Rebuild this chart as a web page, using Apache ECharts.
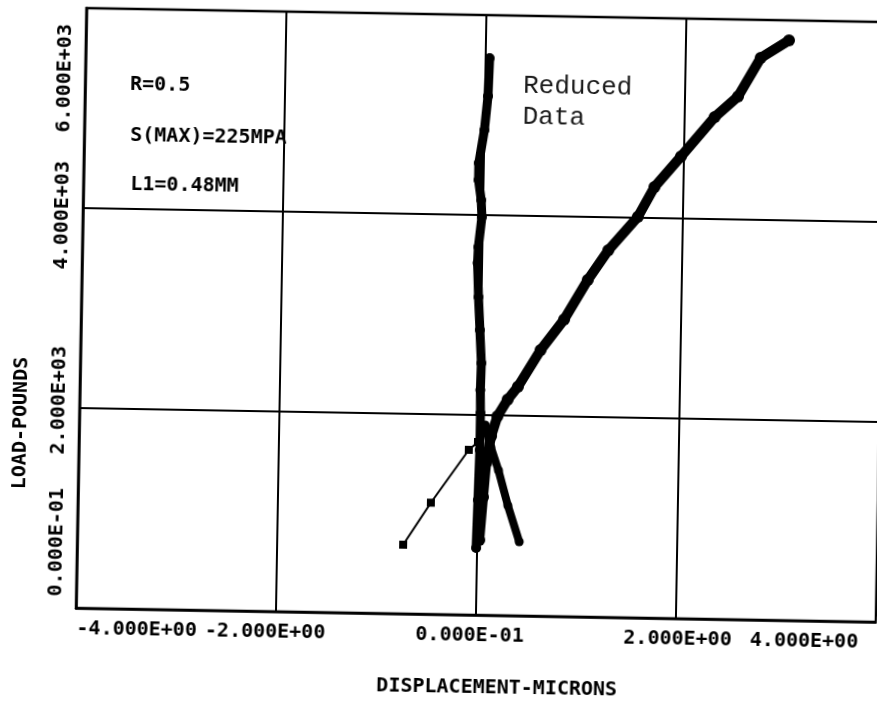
<!DOCTYPE html>
<html>
<head>
<meta charset="utf-8">
<title>Load vs displacement</title>
<script src="https://cdn.jsdelivr.net/npm/echarts@6/dist/echarts.min.js"></script>
<style>
  html, body { margin: 0; padding: 0; background: #fff; overflow: hidden; }
  #chart {
    width: 877px; height: 703px;
    /* the plotted sheet sits slightly skewed on the page */
    transform: rotate(1deg);
    transform-origin: 75px 608px;
  }
</style>
</head>
<body>
<div id="chart"></div>
<script>
// Tick labels as printed by the plotter
const xTickLabels = ['-4.000E+00', '-2.000E+00', '0.000E-01', '2.000E+00', '4.000E+00'];
const yTickLabels = ['0.000E-01', '2.000E+03', '4.000E+03', '6.000E+03'];

// Displacement (microns), load (pounds)
const nearZeroCurve = [
  [-0.01, 670], [0.00, 1150], [0.01, 1650], [0.01, 2020], [0.005, 2250],
  [0.01, 2520], [-0.01, 2850], [-0.03, 3180], [-0.045, 3520], [-0.04, 3680],
  [-0.01, 3980], [-0.02, 4150], [-0.05, 4350], [-0.05, 4520], [0.00, 4850],
  [0.03, 5190], [0.04, 5570]
];
const loadingCurve = [
  [0.02, 750], [0.05, 1180], [0.075, 1520], [0.12, 1790], [0.18, 1990],
  [0.28, 2160], [0.38, 2290], [0.60, 2660], [0.83, 2970], [1.06, 3370],
  [1.26, 3670], [1.55, 4010], [1.71, 4310], [1.97, 4620], [2.30, 5020],
  [2.53, 5230], [2.75, 5620], [3.03, 5800]
];
const returnBranch = [
  [0.06, 1900], [0.12, 1680], [0.20, 1450], [0.30, 1100], [0.42, 740]
];
const rawPoints = [
  [-0.74, 690], [-0.47, 1115], [-0.10, 1650], [-0.01, 1730]
];

// Annotation text
const notes = ['R=0.5', 'S(MAX)=225MPA', 'L1=0.48MM'];
const stamp = ['Reduced', 'Data'];
const xTitle = 'DISPLACEMENT-MICRONS';
const yTitle = 'LOAD-POUNDS';

const INK = '#000';
const PLOT_FONT = '"DejaVu Sans Mono", monospace';

function tok(pad) {
  return { fontFamily: PLOT_FONT, fontWeight: 'bold', fontSize: 20, color: INK, padding: pad };
}

const chart = echarts.init(document.getElementById('chart'), null, { renderer: 'canvas' });

chart.setOption({
  animation: false,
  backgroundColor: '#fff',
  grid: {
    left: 75, top: 8, width: 801, height: 600,
    show: true, borderColor: INK, borderWidth: 2.5, backgroundColor: 'transparent'
  },
  xAxis: {
    type: 'value', min: -4, max: 4, interval: 2,
    axisLine: { show: true, onZero: false, lineStyle: { color: INK, width: 2.5 } },
    axisTick: { show: false },
    splitLine: { show: true, lineStyle: { color: INK, width: 2 } },
    axisLabel: {
      showMinLabel: true, showMaxLabel: true, margin: 11,
      formatter: function (v) {
        const i = Math.round((v + 4) / 2);
        return '{x' + i + '|' + xTickLabels[i] + '}';
      },
      rich: {
        x0: tok([0, 0, 0, 122]),
        x1: tok([0, 21, 0, 0]),
        x2: tok([0, 12, 0, 0]),
        x3: tok([0, 0, 0, 4]),
        x4: tok([0, 143, 0, 0])
      }
    },
    name: xTitle, nameLocation: 'middle', nameGap: 63,
    nameTextStyle: { fontFamily: PLOT_FONT, fontWeight: 'bold', fontSize: 20, color: INK, padding: [0, 0, 0, 44] }
  },
  yAxis: {
    type: 'value', min: 0, max: 6000, interval: 2000,
    axisLine: { show: true, onZero: false, lineStyle: { color: INK, width: 2.5 } },
    axisTick: { show: false },
    splitLine: { show: true, lineStyle: { color: INK, width: 2 } },
    axisLabel: {
      rotate: 90, showMinLabel: true, showMaxLabel: true, margin: 10,
      formatter: function (v) {
        const i = Math.round(v / 2000);
        return '{y' + i + '|' + yTickLabels[i] + '}';
      },
      rich: {
        y0: tok([0, 0, 0, 131]),
        y1: tok([0, 0, 0, 15]),
        y2: tok([0, 15, 0, 0]),
        y3: tok([0, 141, 0, 0])
      }
    },
    name: yTitle, nameLocation: 'middle', nameGap: 48,
    nameTextStyle: { fontFamily: PLOT_FONT, fontWeight: 'bold', fontSize: 20, color: INK, padding: [0, 232, 0, 0] }
  },
  graphic: [
    { type: 'text', x: 121, y: 84, style: { text: notes[0], font: 'bold 20px ' + PLOT_FONT, fill: INK, verticalAlign: 'middle' } },
    { type: 'text', x: 122, y: 135, style: { text: notes[1], font: 'bold 20px ' + PLOT_FONT, fill: INK, verticalAlign: 'middle' } },
    { type: 'text', x: 123, y: 184, style: { text: notes[2], font: 'bold 20px ' + PLOT_FONT, fill: INK, verticalAlign: 'middle' } },
    { type: 'text', x: 514, y: 78, style: { text: stamp[0], font: '26px "Liberation Mono", monospace', fill: '#1a1a1a', verticalAlign: 'middle' } },
    { type: 'text', x: 514, y: 109, style: { text: stamp[1], font: '26px "Liberation Mono", monospace', fill: '#1a1a1a', verticalAlign: 'middle' } }
  ],
  series: [
    {
      type: 'line', data: rawPoints, z: 2,
      symbol: 'rect', symbolSize: 8,
      itemStyle: { color: INK },
      lineStyle: { color: INK, width: 2 }
    },
    {
      type: 'line', data: nearZeroCurve, z: 3,
      symbol: 'circle', symbolSize: 10,
      itemStyle: { color: INK },
      lineStyle: { color: INK, width: 9, cap: 'round', join: 'round' }
    },
    {
      type: 'line', data: loadingCurve, z: 3,
      symbol: 'circle', symbolSize: 12,
      itemStyle: { color: INK },
      lineStyle: { color: INK, width: 10, cap: 'round', join: 'round' }
    },
    {
      type: 'line', data: returnBranch, z: 3,
      symbol: 'circle', symbolSize: 9,
      itemStyle: { color: INK },
      lineStyle: { color: INK, width: 8, cap: 'round', join: 'round' }
    }
  ]
});
</script>
</body>
</html>
